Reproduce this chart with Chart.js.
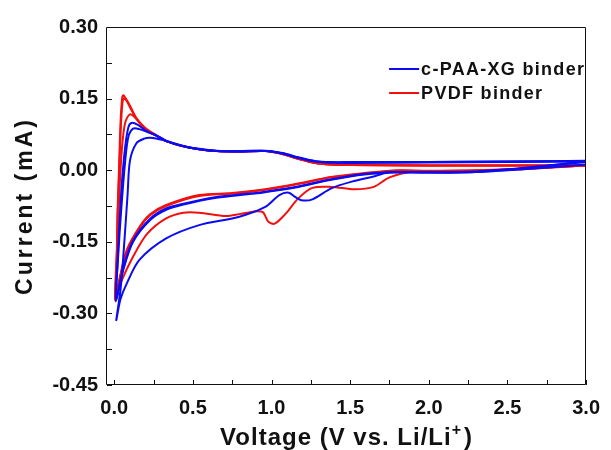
<!DOCTYPE html>
<html><head><meta charset="utf-8">
<script src="https://cdn.jsdelivr.net/npm/chart.js@4.4.0/dist/chart.umd.min.js"></script>
<style>html,body{margin:0;padding:0;background:#fff;}#wrap{width:611px;height:450px;}</style>
</head><body><div id="wrap"><canvas id="c" width="611" height="450"></canvas></div>
<script>
// ---- data (Voltage V, Current mA), each cycle: cathodic sweep then anodic sweep ----
const legendLabels = ['c-PAA-XG binder', 'PVDF binder'];
const xTitle = 'Voltage (V vs. Li/Li';
const xTitleSup = '+';
const yTitle = 'Current (mA)';

const paa1V = [3.0,2.6,2.3,2.0,1.76,1.65,1.51,1.38,1.26,1.19,1.15,1.11,1.05,0.96,0.79,0.54,0.33,0.16,0.08,0.04,0.013,
               0.04,0.06,0.085,0.10,0.14,0.19,0.23,0.31,0.44,0.54,0.65,0.79,0.96,1.07,1.17,1.28,1.38,1.5,2.0,2.5,3.0];
const paa1I = [0.012,0.002,-0.004,-0.005,-0.004,-0.013,-0.024,-0.038,-0.061,-0.063,-0.056,-0.047,-0.052,-0.077,-0.098,-0.115,-0.143,-0.188,-0.237,-0.27,-0.314,
               -0.25,-0.17,-0.05,0.02,0.056,0.066,0.068,0.063,0.050,0.044,0.040,0.039,0.040,0.035,0.026,0.018,0.016,0.015,0.016,0.017,0.019];

const paa2V = [3.0,2.5,2.2,1.8,1.59,1.38,1.17,0.96,0.86,0.65,0.44,0.33,0.23,0.12,0.06,0.01,
               0.02,0.035,0.05,0.07,0.09,0.11,0.15,0.2,0.27,0.33,0.44,0.54,0.65,0.79,0.96,1.07,1.17,1.28,1.38,1.5,2.0,2.5,3.0];
const paa2I = [0.017,0.002,-0.004,-0.004,-0.008,-0.019,-0.034,-0.045,-0.049,-0.056,-0.070,-0.080,-0.101,-0.147,-0.202,-0.275,
               -0.2,-0.1,-0.02,0.05,0.09,0.099,0.095,0.083,0.072,0.061,0.050,0.044,0.040,0.039,0.040,0.035,0.026,0.018,0.016,0.016,0.017,0.018,0.020];

const paa3V = [3.0,2.5,2.2,1.8,1.59,1.38,1.17,0.96,0.86,0.65,0.44,0.33,0.23,0.12,0.06,0.012,
               0.025,0.045,0.07,0.09,0.12,0.16,0.22,0.28,0.33,0.44,0.54,0.65,0.79,0.96,1.07,1.17,1.28,1.38,1.5,2.0,2.5,3.0];
const paa3I = [0.019,0.001,-0.005,-0.005,-0.009,-0.020,-0.035,-0.046,-0.050,-0.058,-0.072,-0.083,-0.104,-0.150,-0.206,-0.27,
               -0.18,-0.08,0.02,0.07,0.087,0.086,0.079,0.071,0.062,0.051,0.045,0.041,0.040,0.041,0.036,0.027,0.019,0.017,0.017,0.017,0.018,0.019];

const pvdf1V = [3.0,2.6,2.3,1.9,1.75,1.65,1.53,1.38,1.26,1.17,1.09,1.02,0.98,0.94,0.81,0.71,0.54,0.44,0.33,0.21,0.12,0.04,0.006,
                0.02,0.035,0.05,0.07,0.1,0.14,0.2,0.27,0.33,0.44,0.54,0.65,0.79,0.96,1.07,1.17,1.28,1.38,1.5,2.0,2.5,3.0];
const pvdf1I = [0.010,0.003,-0.002,-0.003,-0.015,-0.035,-0.040,-0.035,-0.037,-0.059,-0.091,-0.112,-0.108,-0.087,-0.091,-0.096,-0.089,-0.089,-0.101,-0.133,-0.181,-0.237,-0.272,
                -0.15,-0.03,0.05,0.10,0.117,0.108,0.088,0.073,0.061,0.050,0.044,0.040,0.039,0.040,0.034,0.024,0.015,0.012,0.011,0.010,0.010,0.010];

const pvdf2V = [3.0,2.5,2.0,1.8,1.59,1.38,1.17,0.96,0.75,0.54,0.33,0.23,0.16,0.08,0.027,0.008,
                0.015,0.02,0.03,0.04,0.05,0.058,0.07,0.1,0.14,0.2,0.27,0.33,0.44,0.54,0.65,0.79,0.96,1.07,1.17,1.28,1.38,1.5,2.0,2.5,3.0];
const pvdf2I = [0.010,0.001,-0.001,0.0,-0.006,-0.014,-0.028,-0.040,-0.048,-0.052,-0.073,-0.092,-0.119,-0.167,-0.237,-0.268,
                -0.2,-0.1,0.0,0.1,0.15,0.157,0.152,0.135,0.11,0.086,0.072,0.061,0.050,0.044,0.040,0.039,0.040,0.034,0.024,0.015,0.012,0.011,0.010,0.010,0.010];

const pvdf3V = [3.0,2.5,2.0,1.8,1.59,1.38,1.17,0.96,0.75,0.54,0.33,0.23,0.16,0.08,0.027,0.009,
                0.016,0.022,0.032,0.042,0.052,0.06,0.075,0.1,0.14,0.2,0.27,0.33,0.44,0.54,0.65,0.79,0.96,1.07,1.17,1.28,1.38,1.5,2.0,2.5,3.0];
const pvdf3I = [0.010,0.002,-0.002,-0.001,-0.007,-0.015,-0.029,-0.041,-0.049,-0.054,-0.075,-0.094,-0.121,-0.170,-0.240,-0.265,
                -0.19,-0.09,0.0,0.09,0.14,0.150,0.147,0.132,0.108,0.085,0.072,0.061,0.050,0.044,0.040,0.039,0.040,0.034,0.024,0.015,0.012,0.011,0.010,0.010,0.010];

// ---- axes ----
const xMin = -0.046, xMax = 3.0, yMin = -0.45, yMax = 0.30;
const xTickValues = [0,0.25,0.5,0.75,1.0,1.25,1.5,1.75,2.0,2.25,2.5,2.75,3.0];
const xTickLabels = ['0.0','','0.5','','1.0','','1.5','','2.0','','2.5','','3.0'];
const yTickValues = [0.30,0.225,0.15,0.075,0,-0.075,-0.15,-0.225,-0.30,-0.375,-0.45];
const yTickLabels = ['0.30','','0.15','','0.00','','-0.15','','-0.30','','-0.45'];

const BLUE = '#0b0bf2', RED = '#f2100f';
const FAM = '"Liberation Sans", Arial, sans-serif';
function pts(v, i) { return v.map((x, k) => ({ x: x, y: i[k] })); }
function ds(label, v, i, color) {
  return { label: label, data: pts(v, i), borderColor: color, backgroundColor: color,
           borderWidth: 2, pointRadius: 0, tension: 0.3, fill: false };
}
const datasets = [
  ds(legendLabels[0], paa1V, paa1I, BLUE),
  ds(legendLabels[0], paa2V, paa2I, BLUE),
  ds(legendLabels[0], paa3V, paa3I, BLUE),
  ds(legendLabels[1], pvdf1V, pvdf1I, RED),
  ds(legendLabels[1], pvdf2V, pvdf2I, RED),
  ds(legendLabels[1], pvdf3V, pvdf3I, RED)
];

const frame = {
  id: 'frame',
  afterDraw(chart) {
    const { ctx, chartArea: a, scales: { x, y } } = chart;
    ctx.save();
    ctx.strokeStyle = '#111';
    ctx.lineWidth = 1;
    ctx.beginPath();
    ctx.rect(Math.round(a.left) - 0.5, Math.round(a.top) + 0.5, Math.round(a.right - a.left), Math.round(a.bottom - a.top) - 1);
    xTickValues.forEach(v => {
      const px = Math.round(x.getPixelForValue(v)) + 0.5;
      ctx.moveTo(px, a.bottom); ctx.lineTo(px, a.bottom - 5);
    });
    yTickValues.forEach(v => {
      const py = Math.round(y.getPixelForValue(v)) + 0.5;
      ctx.moveTo(a.left, py); ctx.lineTo(a.left + 5, py);
    });
    ctx.stroke();

    // legend
    const cols = [BLUE, RED];
    ctx.font = 'bold 18px ' + FAM;
    ctx.letterSpacing = '1.3px';
    ctx.textBaseline = 'middle';
    ctx.textAlign = 'left';
    legendLabels.forEach((t, k) => {
      const ly = a.top + 42 + k * 24;
      const lx = a.right - 197;
      ctx.strokeStyle = cols[k]; ctx.lineWidth = 2;
      ctx.beginPath(); ctx.moveTo(lx, ly); ctx.lineTo(lx + 30, ly); ctx.stroke();
      ctx.fillStyle = '#111';
      ctx.fillText(t, lx + 32, ly + 1);
    });

    // x axis title with superscript
    ctx.fillStyle = '#111';
    ctx.textBaseline = 'alphabetic';
    ctx.font = 'bold 24px ' + FAM;
    ctx.letterSpacing = '1px';
    const wMain = ctx.measureText(xTitle).width;
    ctx.font = 'bold 16px ' + FAM;
    const wSup = ctx.measureText(xTitleSup).width;
    ctx.font = 'bold 24px ' + FAM;
    const wClose = ctx.measureText(')').width;
    const total = wMain + wSup + wClose + 2;
    let tx = (a.left + a.right) / 2 - total / 2;
    const ty = 445;
    ctx.textAlign = 'left';
    ctx.fillText(xTitle, tx, ty);
    tx += wMain;
    ctx.font = 'bold 16px ' + FAM;
    ctx.fillText(xTitleSup, tx, ty - 10);
    tx += wSup + 2;
    ctx.font = 'bold 24px ' + FAM;
    ctx.fillText(')', tx, ty);

    // y axis title
    ctx.save();
    ctx.translate(25, (a.top + a.bottom) / 2);
    ctx.rotate(-Math.PI / 2);
    ctx.font = 'bold 23px ' + FAM;
    ctx.letterSpacing = '3px';
    ctx.textAlign = 'center';
    ctx.textBaseline = 'middle';
    ctx.fillText(yTitle, 0, 1);
    ctx.restore();
    ctx.restore();
  }
};

const tickFont = { family: FAM, size: 20, weight: 'bold' };

new Chart(document.getElementById('c'), {
  type: 'line',
  data: { datasets: datasets },
  options: {
    responsive: false, animation: false, devicePixelRatio: 1,
    layout: { padding: { top: 27, right: 20, left: 0, bottom: 0 } },
    plugins: { legend: { display: false }, tooltip: { enabled: false } },
    scales: {
      x: {
        type: 'linear', min: xMin, max: xMax,
        afterBuildTicks: s => { s.ticks = xTickValues.map(v => ({ value: v })); },
        afterFit: s => { s.height = 65; },
        grid: { display: false, drawTicks: false },
        border: { display: false },
        ticks: { color: '#111', font: tickFont, padding: 11, maxRotation: 0, autoSkip: false,
                 callback: (v, i) => xTickLabels[i] },
        title: { display: false }
      },
      y: {
        type: 'linear', min: yMin, max: yMax,
        afterBuildTicks: s => { s.ticks = yTickValues.map(v => ({ value: v })); },
        afterFit: s => { s.width = 107; },
        grid: { display: false, drawTicks: false },
        border: { display: false },
        ticks: { color: '#111', font: tickFont, padding: 9, autoSkip: false,
                 callback: (v, i) => yTickLabels[i] },
        title: { display: false }
      }
    }
  },
  plugins: [frame]
});
</script></body></html>
